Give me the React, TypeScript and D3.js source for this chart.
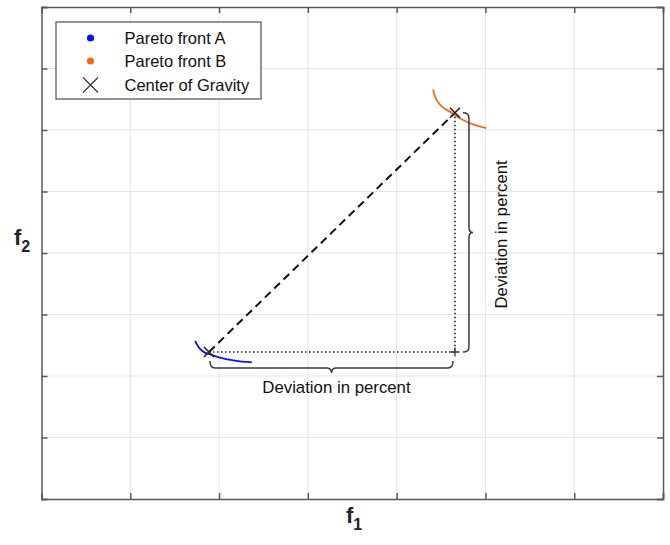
import React, { useEffect, useRef } from "react";
import * as d3 from "d3";

// axis ticks (no labels shown)
const xTicks = [0, 1, 2, 3, 4, 5, 6, 7];
const yTicks = [0, 1, 2, 3, 4, 5, 6, 7, 8];

// Pareto front A
const frontAf1 = [1.73, 1.785, 1.84, 1.9, 2.01, 2.18, 2.37];
const frontAf2 = [2.57, 2.44, 2.38, 2.35, 2.3, 2.25, 2.22];

// Pareto front B
const frontBf1 = [4.41, 4.45, 4.51, 4.62, 4.71, 4.86, 5.01];
const frontBf2 = [6.66, 6.49, 6.38, 6.28, 6.19, 6.09, 6.03];

// centers of gravity (A, B)
const cogF1 = [1.886, 4.657];
const cogF2 = [2.39, 6.28];

const legendLabels = ["Pareto front A", "Pareto front B", "Center of Gravity"];
const deviationLabel = "Deviation in percent";

const BLUE = "#0a14e6";
const ORANGE = "#f26b1d";
const FONT = "'Liberation Sans', Arial, Helvetica, sans-serif";

const App = () => {
  const ref = useRef<SVGSVGElement>(null);

  useEffect(() => {
    const w = 670;
    const h = 545;
    const left = 41.5;
    const right = 663;
    const top = 7;
    const bottom = 499;

    const svg = d3.select(ref.current);
    svg.selectAll("*").remove();

    const x = d3.scaleLinear().domain([0, 7]).range([left, right]);
    const y = d3.scaleLinear().domain([0, 8]).range([bottom, top]);

    svg.append("rect").attr("width", w).attr("height", h).attr("fill", "#fff");

    // grid
    const grid = svg.append("g").attr("stroke", "#e3e3e3").attr("stroke-width", 1);
    grid
      .selectAll("line.gx")
      .data(xTicks.slice(1, -1))
      .enter()
      .append("line")
      .attr("x1", (d) => x(d))
      .attr("x2", (d) => x(d))
      .attr("y1", top)
      .attr("y2", bottom);
    grid
      .selectAll("line.gy")
      .data(yTicks.slice(1, -1))
      .enter()
      .append("line")
      .attr("x1", left)
      .attr("x2", right)
      .attr("y1", (d) => y(d))
      .attr("y2", (d) => y(d));

    // axes (box with inward ticks on all sides)
    const tick = 6;
    svg
      .append("g")
      .attr("transform", "translate(0," + bottom + ")")
      .call(d3.axisBottom(x).tickValues(xTicks).tickSize(-tick).tickFormat(() => ""))
      .call((g) => g.selectAll("path,line").attr("stroke", "#5a5a5a").attr("stroke-width", 1.5));
    svg
      .append("g")
      .attr("transform", "translate(0," + top + ")")
      .call(d3.axisTop(x).tickValues(xTicks).tickSize(-tick).tickFormat(() => ""))
      .call((g) => g.selectAll("path,line").attr("stroke", "#5a5a5a").attr("stroke-width", 1.5));
    svg
      .append("g")
      .attr("transform", "translate(" + left + ",0)")
      .call(d3.axisLeft(y).tickValues(yTicks).tickSize(-tick).tickFormat(() => ""))
      .call((g) => g.selectAll("path,line").attr("stroke", "#5a5a5a").attr("stroke-width", 1.5));
    svg
      .append("g")
      .attr("transform", "translate(" + right + ",0)")
      .call(d3.axisRight(y).tickValues(yTicks).tickSize(-tick).tickFormat(() => ""))
      .call((g) => g.selectAll("path,line").attr("stroke", "#5a5a5a").attr("stroke-width", 1.5));
    svg.selectAll(".domain").attr("fill", "none");

    const line = d3
      .line<[number, number]>()
      .x((d) => x(d[0]))
      .y((d) => y(d[1]))
      .curve(d3.curveCatmullRom);

    const ax = x(cogF1[0]);
    const ay = y(cogF2[0]);
    const bx = x(cogF1[1]);
    const by = y(cogF2[1]);

    // dotted projections
    svg
      .append("path")
      .attr("d", line([[cogF1[0], cogF2[0]], [cogF1[1], cogF2[0]]]))
      .attr("fill", "none")
      .attr("stroke", "#222")
      .attr("stroke-width", 1.6)
      .attr("stroke-dasharray", "1.5,2.5");
    svg
      .append("path")
      .attr("d", line([[cogF1[1], cogF2[1]], [cogF1[1], cogF2[0]]]))
      .attr("fill", "none")
      .attr("stroke", "#222")
      .attr("stroke-width", 1.6)
      .attr("stroke-dasharray", "1.5,2.5");

    // dashed connection between centers
    svg
      .append("path")
      .attr("d", line([[cogF1[0], cogF2[0]], [cogF1[1], cogF2[1]]]))
      .attr("fill", "none")
      .attr("stroke", "#111")
      .attr("stroke-width", 2)
      .attr("stroke-dasharray", "8,5");

    // fronts
    svg
      .append("path")
      .attr("d", line(frontAf1.map((v, i) => [v, frontAf2[i]] as [number, number])))
      .attr("fill", "none")
      .attr("stroke", BLUE)
      .attr("stroke-width", 1.8);
    svg
      .append("path")
      .attr("d", line(frontBf1.map((v, i) => [v, frontBf2[i]] as [number, number])))
      .attr("fill", "none")
      .attr("stroke", ORANGE)
      .attr("stroke-width", 1.8);

    // center of gravity markers
    const s = 5;
    [[ax, ay], [bx, by]].forEach(([cx, cy]) => {
      svg
        .append("path")
        .attr("d", `M${cx - s},${cy - s}L${cx + s},${cy + s}M${cx - s},${cy + s}L${cx + s},${cy - s}`)
        .attr("stroke", "#222")
        .attr("stroke-width", 1.6);
    });
    // plus at the corner
    const p = 4.5;
    svg
      .append("path")
      .attr("d", `M${bx - p},${ay}L${bx + p},${ay}M${bx},${ay - p}L${bx},${ay + p}`)
      .attr("stroke", "#333")
      .attr("stroke-width", 1.3);

    // braces
    const r = 5;
    const bY0 = ay + 9;
    const bD = 7;
    const bT = 5;
    const x1 = ax + 1;
    const x2 = bx - 2;
    const xm = (x1 + x2) / 2;
    const yl = bY0 + bD;
    svg
      .append("path")
      .attr(
        "d",
        `M${x1},${bY0}Q${x1},${yl} ${x1 + r},${yl}L${xm - r},${yl}Q${xm},${yl} ${xm},${yl + bT}` +
          `Q${xm},${yl} ${xm + r},${yl}L${x2 - r},${yl}Q${x2},${yl} ${x2},${bY0}`
      )
      .attr("fill", "none")
      .attr("stroke", "#3a3a3a")
      .attr("stroke-width", 1.5);

    const rX0 = bx + 8;
    const xl = rX0 + 6;
    const y1 = by;
    const y2 = ay;
    const ym = (y1 + y2) / 2;
    svg
      .append("path")
      .attr(
        "d",
        `M${rX0},${y1}Q${xl},${y1} ${xl},${y1 + r}L${xl},${ym - r}Q${xl},${ym} ${xl + 4},${ym}` +
          `Q${xl},${ym} ${xl},${ym + r}L${xl},${y2 - r}Q${xl},${y2} ${rX0},${y2}`
      )
      .attr("fill", "none")
      .attr("stroke", "#3a3a3a")
      .attr("stroke-width", 1.5);

    svg
      .append("text")
      .attr("x", xm + 5)
      .attr("y", yl + 25)
      .attr("text-anchor", "middle")
      .attr("font-family", FONT)
      .attr("font-size", 16.8)
      .attr("fill", "#111")
      .text(deviationLabel);
    svg
      .append("text")
      .attr("transform", `translate(${xl + 38},${ym + 2}) rotate(-90)`)
      .attr("text-anchor", "middle")
      .attr("font-family", FONT)
      .attr("font-size", 16.8)
      .attr("fill", "#111")
      .text(deviationLabel);

    // legend
    const leg = svg.append("g");
    leg
      .append("rect")
      .attr("x", 56)
      .attr("y", 22)
      .attr("width", 205)
      .attr("height", 77)
      .attr("fill", "#fff")
      .attr("stroke", "#5a5a5a")
      .attr("stroke-width", 1.3);
    const rowY = [38, 61, 85];
    leg.append("circle").attr("cx", 90.5).attr("cy", rowY[0]).attr("r", 3.6).attr("fill", BLUE);
    leg.append("circle").attr("cx", 90.5).attr("cy", rowY[1]).attr("r", 3.6).attr("fill", ORANGE);
    const m = 7.5;
    leg
      .append("path")
      .attr("d", `M${90.5 - m},${rowY[2] - m}L${90.5 + m},${rowY[2] + m}M${90.5 - m},${rowY[2] + m}L${90.5 + m},${rowY[2] - m}`)
      .attr("stroke", "#333")
      .attr("stroke-width", 1.1);
    leg
      .selectAll("text")
      .data(legendLabels)
      .enter()
      .append("text")
      .attr("x", 124.5)
      .attr("y", (d, i) => rowY[i] + 6)
      .attr("font-family", FONT)
      .attr("font-size", 16.5)
      .attr("fill", "#111")
      .text((d) => d);

    // axis labels
    const xl1 = svg
      .append("text")
      .attr("x", 346)
      .attr("y", 523)
      .attr("font-family", FONT)
      .attr("font-weight", "bold")
      .attr("font-size", 22)
      .attr("fill", "#222");
    xl1.append("tspan").text("f");
    xl1.append("tspan").attr("dy", 7).attr("font-size", 16).text("1");

    const yl1 = svg
      .append("text")
      .attr("x", 14)
      .attr("y", 245)
      .attr("font-family", FONT)
      .attr("font-weight", "bold")
      .attr("font-size", 22)
      .attr("fill", "#222");
    yl1.append("tspan").text("f");
    yl1.append("tspan").attr("dy", 7).attr("font-size", 16).text("2");
  }, []);

  return (
    <svg
      ref={ref}
      width={670}
      height={545}
      style={{ position: "absolute", left: 0, top: 0, display: "block" }}
    />
  );
};

export default App;
